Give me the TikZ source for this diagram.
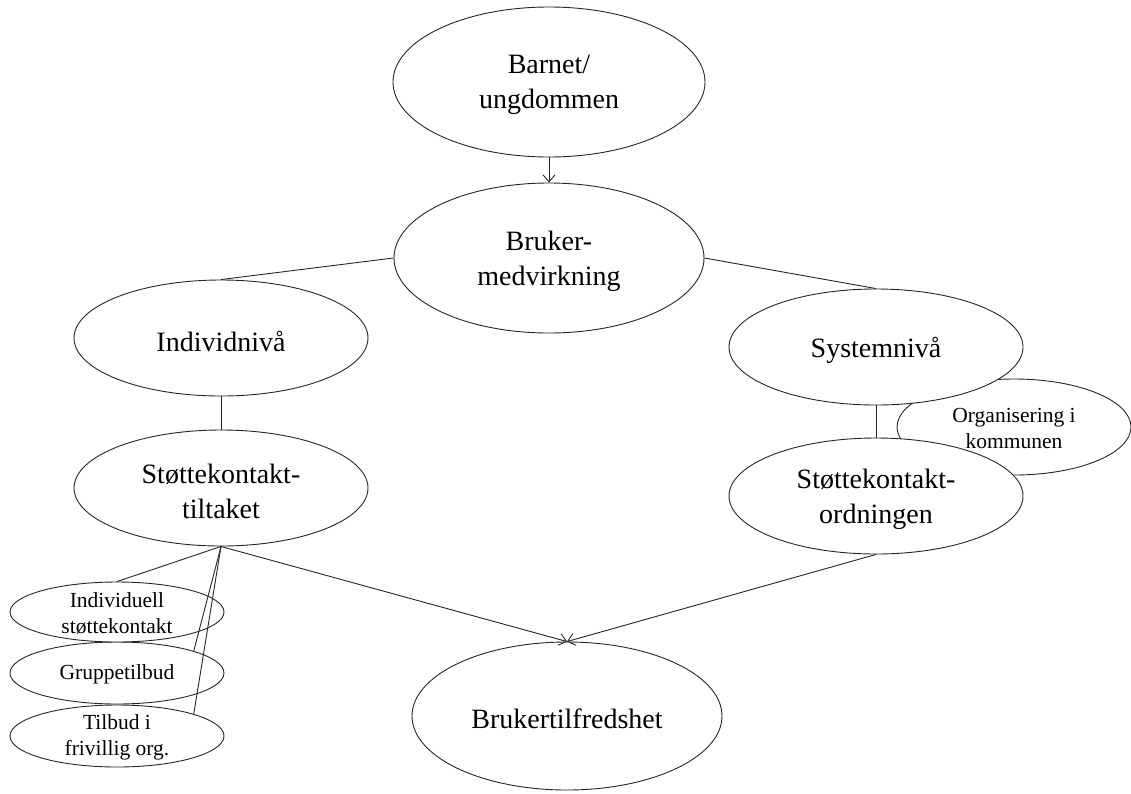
\documentclass[tikz,border=0pt]{standalone}
\usepackage{fontspec}
\setmainfont{Liberation Serif}
\usetikzlibrary{shapes.geometric,arrows.meta}
\begin{document}
\begin{tikzpicture}[x=1pt,y=-1pt,
  el/.style={ellipse,draw=black!85,line width=0.9pt,fill=white,inner sep=0pt},
  big/.style={font=\fontsize{28}{35}\selectfont,align=center,inner sep=0pt,yshift=-3pt},
  small/.style={font=\fontsize{21.5}{26}\selectfont,align=center,inner sep=0pt,yshift=-1pt},
  conn/.style={draw=black!85,line width=0.9pt},
  arr/.style={conn,-{Straight Barb[length=7pt,width=12pt]}}]
\useasboundingbox (0,0) rectangle (1131,793);

% top
\node[el,minimum width=312pt,minimum height=150pt] (barn) at (549,82) {};
\node[big] (barn-t) at (barn) {Barnet/\\ungdommen};
\node[el,minimum width=310pt,minimum height=150pt] (medv) at (549,258) {};
\node[big] (medv-t) at (medv) {Bruker-\\medvirkning};

% left
\node[el,minimum width=294pt,minimum height=116pt] (indiv) at (221,338) {};
\node[big] (indiv-t) at (indiv) {Individnivå};
\node[el,minimum width=294pt,minimum height=116pt] (tilt) at (221,488) {};
\node[big] (tilt-t) at (tilt) {Støttekontakt-\\tiltaket};

% small
\node[el,minimum width=214pt,minimum height=62pt] (frv) at (117,736) {};
\node[small] (frv-t) at (frv) {Tilbud i\\frivillig org.};
\node[el,minimum width=214pt,minimum height=62pt] (grp) at (117,673) {};
\node[small] (grp-t) at (grp) {Gruppetilbud};
\node[el,minimum width=214pt,minimum height=60pt] (indst) at (117,612) {};
\node[small] (indst-t) at (indst) {Individuell\\støttekontakt};

% right
\node[el,minimum width=234pt,minimum height=96pt] (org) at (1014,427) {};
\node[small] (org-t) at (org) {Organisering i\\kommunen};
\node[el,minimum width=294pt,minimum height=116pt] (sys) at (876,347) {};
\node[big] (sys-t) at (sys) {Systemnivå};
\node[el,minimum width=294pt,minimum height=116pt] (ordn) at (876,496) {};
\node[big] (ordn-t) at (ordn) {Støttekontakt-\\ordningen};

% bottom
\node[el,minimum width=310pt,minimum height=148pt] (tilf) at (567,716) {};
\node[big] (tilf-t) at (tilf) {Brukertilfredshet};

% connectors
\draw[arr] (barn.south) -- (medv.north);
\draw[conn] (medv.west) -- (indiv.north);
\draw[conn] (medv.east) -- (sys.north);
\draw[conn] (indiv.south) -- (tilt.north);
\draw[conn] (sys.south) -- (ordn.north);
\draw[conn] (tilt.south) -- (indst.north);
\draw[conn] (tilt.south) -- (grp.16);
\draw[conn] (tilt.south) -- (frv.16);
\draw[arr] (tilt.south) -- (tilf.north);
\draw[arr] (ordn.south) -- (tilf.north);
\end{tikzpicture}
\end{document}
